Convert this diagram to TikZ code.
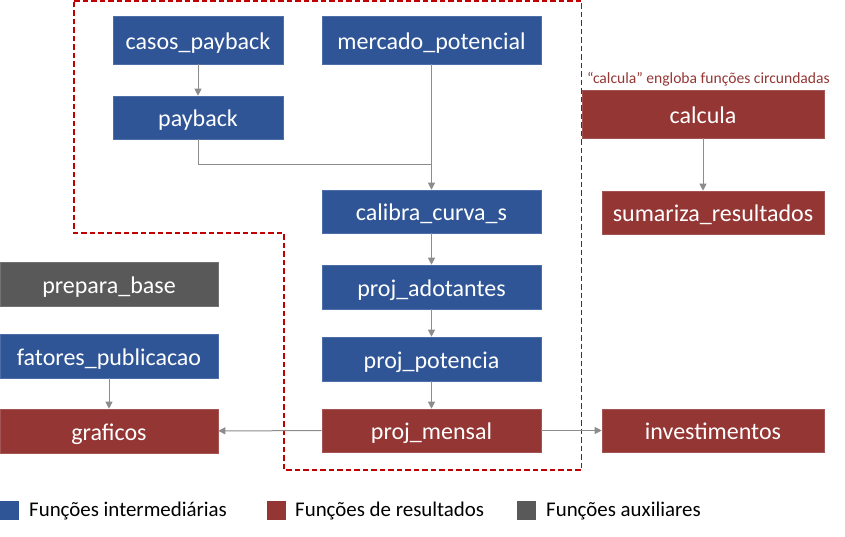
\documentclass[tikz,border=0pt]{standalone}
\usepackage{fontspec}
\setmainfont{Carlito}
\usetikzlibrary{arrows.meta}
\definecolor{fblue}{HTML}{2F5597}
\definecolor{fred}{HTML}{943634}
\definecolor{fgray}{HTML}{595959}
\definecolor{arr}{HTML}{8C8C8C}
\definecolor{dred}{HTML}{C00000}
\begin{document}
\begin{tikzpicture}[x=1pt,y=-1pt,
  box/.style={fill=#1, draw=#1!85!white, line width=0.6pt, text=white, inner sep=0pt,
    font=\fontsize{24}{24}\selectfont, text height=18.5pt, text depth=0pt},
  conn/.style={draw=arr, line width=1pt, -{Triangle[length=7pt,width=7pt]}},
  plain/.style={draw=arr, line width=1pt},
  legtext/.style={anchor=west, inner sep=0pt, font=\fontsize{20.9}{20.9}\selectfont, text=black},
  legsq/.style={fill=#1, draw=none}]
\useasboundingbox (0,0) rectangle (845,537);
% region
\draw[dred, line width=1.2pt, dash pattern=on 5.5pt off 3pt]
  (74,1) -- (581.5,1) -- (581.5,470) -- (284,470) -- (284,233) -- (74,233) -- cycle;
% nodes
\node[box=fblue, minimum width=170pt, minimum height=48pt] (casos) at (198,40) {casos\_payback};
\node[box=fblue, minimum width=219pt, minimum height=48pt] (mercado) at (431.5,40) {mercado\_potencial};
\node[box=fblue, minimum width=170pt, minimum height=43pt] (payback) at (198,117.5) {payback};
\node[box=fblue, minimum width=219pt, minimum height=43pt] (calibra) at (431.5,211.5) {calibra\_curva\_s};
\node[box=fblue, minimum width=219pt, minimum height=44pt] (adot) at (431.5,287) {proj\_adotantes};
\node[box=fblue, minimum width=219pt, minimum height=44pt] (pot) at (431.5,359) {proj\_potencia};
\node[box=fred, minimum width=219pt, minimum height=43pt] (mensal) at (431.5,430.5) {proj\_mensal};
\node[box=fgray, minimum width=218pt, minimum height=44pt] (prepara) at (109,284) {prepara\_base};
\node[box=fblue, minimum width=218pt, minimum height=44pt] (fatores) at (109,356) {fatores\_publicacao};
\node[box=fred, minimum width=218pt, minimum height=44pt] (graficos) at (109,431) {graficos};
\node[box=fred, minimum width=242pt, minimum height=48pt] (calcula) at (703,114) {calcula};
\node[box=fred, minimum width=222pt, minimum height=43pt] (sumariza) at (713,212.5) {sumariza\_resultados};
\node[box=fred, minimum width=222pt, minimum height=43pt] (invest) at (713,430.5) {investimentos};
% caption
\node[anchor=west, inner sep=0pt, text=fred, font=\fontsize{15.6}{15.6}\selectfont] (cap) at (587,79) {“calcula” engloba funções circundadas};
% connectors
\draw[conn] (casos) -- (payback);
\draw[conn] (mercado) -- (calibra);
\coordinate (j) at (431.5,164.5);
\draw[plain] (payback.south) |- (j);
\draw[conn] (calibra) -- (adot);
\draw[conn] (adot) -- (pot);
\draw[conn] (pot) -- (mensal);
\draw[conn] (mensal) -- (graficos);
\draw[conn] (mensal) -- (invest);
\draw[conn] (fatores) -- (graficos);
\draw[conn] (calcula) -- (calcula.south |- sumariza.north);
% legend
\fill[legsq=fblue] (0,501) rectangle (19,520);
\node[legtext] (l1) at (29,511) {Funções intermediárias};
\fill[legsq=fred] (267,501) rectangle (286,520);
\node[legtext] (l2) at (295,511) {Funções de resultados};
\fill[legsq=fgray] (517,501) rectangle (536,520);
\node[legtext] (l3) at (546,511) {Funções auxiliares};
\end{tikzpicture}
\end{document}
